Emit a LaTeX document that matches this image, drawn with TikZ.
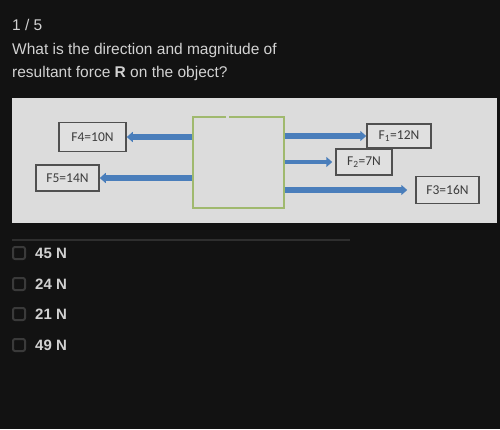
\documentclass[tikz,border=0pt]{standalone}
\usepackage{fontspec}
\setmainfont{Liberation Sans}
\newfontfamily\figfont{Carlito}
\usetikzlibrary{arrows.meta}

\definecolor{appbg}{HTML}{121212}
\definecolor{qgray}{HTML}{D2D2D2}
\definecolor{panelgray}{HTML}{DCDCDC}
\definecolor{labelgray}{HTML}{E0E0E0}
\definecolor{labeledge}{HTML}{505050}
\definecolor{labeltext}{HTML}{3C3C3C}
\definecolor{forceblue}{RGB}{74,126,187}
\definecolor{objgreen}{RGB}{160,185,110}
\definecolor{chkgray}{HTML}{3A3A3A}
\definecolor{sepgray}{HTML}{2E2E2E}

\begin{document}
\begin{tikzpicture}[x=1pt,y=-1pt,
    qtext/.style={anchor=base west,inner sep=0pt,text=qgray,font=\fontsize{15.5}{18}\selectfont},
    opt/.style={anchor=base west,inner sep=0pt,text=qgray,font=\fontsize{15}{18}\selectfont\bfseries},
    chk/.style={draw=chkgray,line width=2pt,rounded corners=2pt,minimum size=12pt,inner sep=0pt},
    forcelabel/.style={draw=labeledge,fill=labelgray,line width=1.5pt,inner sep=0pt,
        text=labeltext,font=\figfont\fontsize{13.5}{15}\selectfont},
    objbox/.style={draw=objgreen,line width=1.3pt,minimum width=91pt,minimum height=91pt,inner sep=0pt},
    force/.style={draw=forceblue,line width=5.5pt,-{Triangle[length=6pt,width=10pt]}},
    ]
    % screen
    \fill[appbg] (0,0) rectangle (500,429);

    % question
    \node[qtext] (count) at (12,30) {1 / 5};
    \node[qtext] (qline1) at (12,54) {What is the direction and magnitude of};
    \node[qtext] (qline2) at (12,77) {resultant force \textbf{R} on the object?};

    % picture of the forces
    \fill[panelgray] (12,98) rectangle (497,223);
    \node[objbox] (obj) at (238.5,162.5) {};
    \fill[panelgray] (226,115.5) rectangle (228.5,118.5);

    \node[forcelabel,minimum width=67pt,minimum height=29pt] (f4) at (92.5,137) {F4=10N};
    \node[forcelabel,minimum width=63pt,minimum height=26pt] (f5) at (67.5,178) {F5=14N};
    \node[forcelabel,minimum width=64pt,minimum height=24pt] (f1) at (399,136) {F\textsubscript{1}=12N};
    \node[forcelabel,minimum width=56pt,minimum height=26pt] (f2) at (364,162) {F\textsubscript{2}=7N};
    \node[forcelabel,minimum width=63pt,minimum height=27pt] (f3) at (447.5,190) {F3=16N};

    \draw[force] (obj.west |- f4.east) -- (f4.east);
    \draw[force] (obj.west |- f5.east) -- (f5.east);
    \draw[force] (obj.east |- f1.west) -- (f1.west);
    \draw[force,line width=4.5pt] (obj.east |- f2.west) -- ([xshift=-3pt]f2.west);
    \draw[force] (obj.east |- f3.west) -- ([xshift=-8pt]f3.west);

    % answers
    \draw[sepgray,line width=1.5pt] (12,240) -- (350,240);
    \foreach \y/\t [count=\i] in {258/45 N,289/24 N,319/21 N,350/49 N}{
        \node[chk] (box\i) at (19,{\y-5}) {};
        \node[opt] (ans\i) at (35,\y) {\t};
    }
\end{tikzpicture}
\end{document}
